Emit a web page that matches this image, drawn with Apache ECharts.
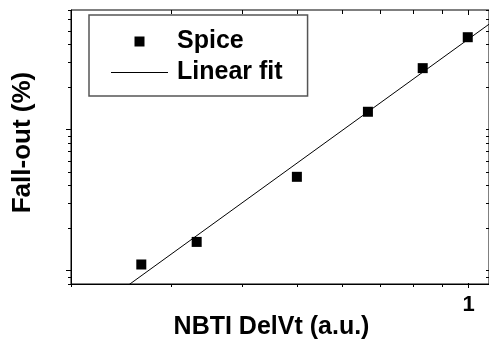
<!DOCTYPE html>
<html>
<head>
<meta charset="utf-8">
<script src="https://cdn.jsdelivr.net/npm/echarts@6/dist/echarts.min.js"></script>
<style>
  html, body { margin: 0; padding: 0; background: #fff; }
  #chart { width: 489px; height: 341px; }
</style>
</head>
<body>
<div id="chart"></div>
<script>
// Spice results: NBTI threshold shift (a.u.) against fall-out (%)
const delVt   = [0.266, 0.333, 0.5, 0.667, 0.833, 1.0];
const fallOut = [1.10, 1.59, 4.6, 13.3, 27.1, 44.9];

// End points of the linear fit in log-log space
const fitDelVt   = [0.25, 1.09];
const fitFallOut = [0.764, 55.5];

// Axis ranges and tick positions
const xRange = [0.2, 1.09];
const yRange = [0.8, 70];
const xTicks = [0.2, 0.3, 0.4, 0.5, 0.6, 0.7, 0.8, 0.9, 1];
const xMajorTicks = [1];
const yTicks = [0.8, 0.9, 1, 2, 3, 4, 5, 6, 7, 8, 9, 10, 20, 30, 40, 50, 60, 70];
const yMajorTicks = [1, 10];

const FONT = "'Liberation Sans', Arial, Helvetica, sans-serif";

const chart = echarts.init(document.getElementById('chart'), null, { renderer: 'canvas' });

// Tick marks on all four sides, placed through the axis scales
function renderXTick(params, api) {
  const v = api.value(0);
  const cs = params.coordSys;
  const x = Math.round(api.coord([v, yRange[0]])[0]) + 0.5;
  const major = xMajorTicks.indexOf(v) >= 0;
  const bottom = cs.y + cs.height;
  const style = { stroke: '#000', lineWidth: 1 };
  const children = [
    { type: 'line', shape: { x1: x, y1: bottom - (major ? 1 : 0), x2: x, y2: bottom + (major ? 4 : 3) }, style },
    { type: 'line', shape: { x1: x, y1: cs.y, x2: x, y2: cs.y + (major ? 5 : 4) }, style }
  ];
  if (major) {
    children.push({
      type: 'text',
      style: {
        x: x, y: bottom + 21, text: String(v),
        font: 'bold 22px ' + FONT, fill: '#000',
        align: 'center', verticalAlign: 'middle'
      }
    });
  }
  return { type: 'group', children };
}

function renderYTick(params, api) {
  const v = api.value(1);
  const cs = params.coordSys;
  const y = Math.round(api.coord([xRange[0], v])[1]) + 0.5;
  const major = yMajorTicks.indexOf(v) >= 0;
  const right = cs.x + cs.width;
  const style = { stroke: '#000', lineWidth: 1 };
  return {
    type: 'group',
    children: [
      { type: 'line', shape: { x1: cs.x - (major ? 5 : 3), y1: y, x2: cs.x, y2: y }, style },
      { type: 'line', shape: { x1: right - 3, y1: y, x2: right, y2: y }, style }
    ]
  };
}

chart.setOption({
  animation: false,
  backgroundColor: '#fff',
  grid: {
    left: 71, top: 10, width: 419, height: 274,
    show: true, borderColor: '#000', borderWidth: 1, backgroundColor: 'transparent',
    containLabel: false
  },
  xAxis: {
    type: 'log', logBase: 10, min: xRange[0], max: xRange[1],
    axisLine: { show: true, lineStyle: { color: '#000', width: 1 } },
    axisTick: { show: false }, axisLabel: { show: false },
    splitLine: { show: false }, minorTick: { show: false }
  },
  yAxis: {
    type: 'log', logBase: 10, min: yRange[0], max: yRange[1],
    axisLine: { show: true, lineStyle: { color: '#000', width: 1 } },
    axisTick: { show: false }, axisLabel: { show: false },
    splitLine: { show: false }, minorTick: { show: false }
  },
  legend: {
    left: 89, top: 15,
    orient: 'vertical',
    padding: [14, 25, 11, 22],
    itemGap: 6,
    itemWidth: 57, itemHeight: 10,
    symbolKeepAspect: true,
    borderColor: '#555', borderWidth: 1.5,
    textStyle: { fontFamily: FONT, fontSize: 25, fontWeight: 'bold', color: '#000', padding: [0, 0, 0, 4] },
    data: [
      { name: 'Spice', icon: 'path://M0,0h10v10h-10z', itemStyle: { color: '#000', opacity: 1 } },
      { name: 'Linear fit', icon: 'path://M0,0h570v10h-570z', itemStyle: { color: '#000', opacity: 1 } }
    ]
  },
  graphic: [
    {
      type: 'text', x: 23, y: 142.5, rotation: Math.PI / 2,
      style: { text: 'Fall-out (%)', font: 'bold 26px ' + FONT, fill: '#000', align: 'center', verticalAlign: 'middle' }
    },
    {
      type: 'text', x: 271.5, y: 327,
      style: { text: 'NBTI DelVt (a.u.)', font: 'bold 25px ' + FONT, fill: '#000', align: 'center', verticalAlign: 'middle' }
    }
  ],
  series: [
    {
      name: 'Spice', type: 'scatter',
      symbol: 'rect', symbolSize: 10,
      itemStyle: { color: '#000', opacity: 1 },
      data: delVt.map((x, i) => [x, fallOut[i]]),
      z: 4
    },
    {
      name: 'Linear fit', type: 'line',
      showSymbol: false, symbol: 'none',
      lineStyle: { color: '#000', width: 1 },
      itemStyle: { color: '#000' },
      data: fitDelVt.map((x, i) => [x, fitFallOut[i]]),
      clip: true, z: 3
    },
    {
      type: 'custom', renderItem: renderXTick, clip: false, silent: true,
      data: xTicks.map(v => [v, yRange[0]]), z: 5
    },
    {
      type: 'custom', renderItem: renderYTick, clip: false, silent: true,
      data: yTicks.map(v => [xRange[0], v]), z: 5
    }
  ]
});
</script>
</body>
</html>
